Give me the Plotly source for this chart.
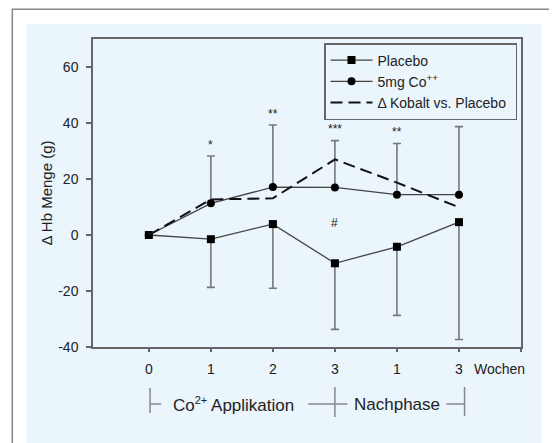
import plotly.graph_objects as go

# ---- data ----
x_pos = [0, 1, 2, 3, 4, 5]
week_labels = ["0", "1", "2", "3", "1", "3"]
y_ticks = [-40, -20, 0, 20, 40, 60]
y_tick_labels = ["-40", "-20", "0", "20", "40", "60"]
placebo = [0, -1.5, 3.9, -10.1, -4.2, 4.6]
placebo_err_minus = [0, 17.2, 22.9, 23.6, 24.5, 41.9]
cobalt = [0, 11.3, 17.1, 17.0, 14.4, 14.4]
cobalt_err_plus = [0, 16.9, 22.2, 16.7, 18.3, 24.3]
delta = [0, 12.7, 13.1, 27.0, 18.7, 9.9]
sig_x = [1, 2, 3, 4, 3]
sig_y = [32.2, 43.2, 38.0, 36.9, 4.2]
sig_text = ["*", "**", "***", "**", "#"]

FONT = "Liberation Sans, Arial, sans-serif"
TXT = "#222222"
GRAY = "#666666"
BLUE = "#EAF5FC"
XR = [-0.9, 6.0]
YR = [-40, 70]
OX, OY = 8, 8          # page body margin
W, H = 549, 435
L, R, T, B = 85, 36, 31, 96
PW, PH = W - L - R, H - T - B


def pxx(px):  # page x pixel -> paper
    return (px - OX - L) / PW


def pyy(py):  # page y pixel -> paper
    return (H - B - (py - OY)) / PH


def xp(v):
    return (v - XR[0]) / (XR[1] - XR[0])


fig = go.Figure()

fig.add_trace(go.Scatter(
    x=x_pos, y=placebo, mode="lines+markers", name="Placebo",
    line=dict(color="#444444", width=1.3),
    marker=dict(symbol="square", size=8, color="black"),
    error_y=dict(type="data", symmetric=False, array=[0] * 6,
                 arrayminus=placebo_err_minus, color="#777777",
                 thickness=1.6, width=4),
))
fig.add_trace(go.Scatter(
    x=x_pos, y=cobalt, mode="lines+markers", name="5mg Co<sup>++</sup>",
    line=dict(color="#444444", width=1.3),
    marker=dict(symbol="circle", size=8, color="black"),
    error_y=dict(type="data", symmetric=False, array=cobalt_err_plus,
                 arrayminus=[0] * 6, color="#777777",
                 thickness=1.6, width=4),
))
fig.add_trace(go.Scatter(
    x=x_pos, y=delta, mode="lines", name="Δ Kobalt vs. Placebo&nbsp;",
    line=dict(color="#111111", width=2, dash="12px,6px"),
))

annotations = []
for sx, sy, st in zip(sig_x, sig_y, sig_text):
    annotations.append(dict(x=sx, y=sy, xref="x", yref="y", text=st,
                            showarrow=False, font=dict(size=12, color=TXT, family=FONT)))

annotations.append(dict(x=5.647, y=pyy(369), xref="x", yref="paper", text="Wochen",
                        showarrow=False, yanchor="middle",
                        font=dict(size=14, color=TXT, family=FONT)))
annotations.append(dict(x=1.364, y=pyy(404), xref="x", yref="paper",
                        text="Co<sup><span style='font-size:11px'>2+</span></sup> Applikation",
                        showarrow=False, yanchor="middle",
                        font=dict(size=17, color=TXT, family=FONT)))
annotations.append(dict(x=4.007, y=pyy(404), xref="x", yref="paper",
                        text="Nachphase", showarrow=False, yanchor="middle",
                        font=dict(size=17, color=TXT, family=FONT)))

shapes = [
    dict(type="rect", xref="paper", yref="paper", layer="below",
         x0=pxx(12.3), x1=pxx(555), y0=pyy(470), y1=pyy(9.3),
         line=dict(color="#888888", width=1.5), fillcolor="white"),
    dict(type="rect", xref="paper", yref="paper", layer="below",
         x0=pxx(26.7), x1=pxx(541.7), y0=pyy(470), y1=pyy(24),
         line=dict(width=0), fillcolor=BLUE),
]
bl = dict(color="#888888", width=1.5)
# bracket below x axis
shapes += [
    dict(type="line", xref="paper", yref="paper", x0=xp(0.02), x1=xp(0.02), y0=pyy(388), y1=pyy(413), line=bl),
    dict(type="line", xref="paper", yref="paper", x0=xp(0.02), x1=xp(0.2), y0=pyy(404), y1=pyy(404), line=bl),
    dict(type="line", xref="paper", yref="paper", x0=xp(3), x1=xp(3), y0=pyy(387), y1=pyy(417), line=bl),
    dict(type="line", xref="paper", yref="paper", x0=xp(2.57), x1=xp(3.2), y0=pyy(404), y1=pyy(404), line=bl),
    dict(type="line", xref="paper", yref="paper", x0=xp(5.09), x1=xp(5.09), y0=pyy(387), y1=pyy(416), line=bl),
    dict(type="line", xref="paper", yref="paper", x0=xp(4.8), x1=xp(5.09), y0=pyy(404), y1=pyy(404), line=bl),
]

fig.update_layout(
    width=W, height=H,
    margin=dict(l=L, r=R, t=T, b=B, pad=0),
    paper_bgcolor="rgba(0,0,0,0)", plot_bgcolor="rgba(0,0,0,0)",
    font=dict(family=FONT, color=TXT, size=14),
    showlegend=True,
    legend=dict(x=pxx(324), y=pyy(43), xanchor="left", yanchor="top",
                bgcolor=BLUE, bordercolor=GRAY, borderwidth=1.5,
                font=dict(size=14, family=FONT, color=TXT),
                tracegroupgap=0, itemwidth=42),
    annotations=annotations,
    shapes=shapes,
)
fig.update_xaxes(range=XR, tickmode="array", tickvals=x_pos + [6], ticktext=week_labels + [""],
                 showgrid=False, zeroline=False, showline=True, mirror=True,
                 linecolor=GRAY, linewidth=1.5, ticks="outside", ticklen=3,
                 tickcolor=GRAY, tickwidth=1.5, ticklabelstandoff=5,
                 tickfont=dict(size=14, color=TXT, family=FONT))
fig.update_yaxes(range=YR, tickmode="array", tickvals=y_ticks, ticktext=y_tick_labels,
                 showgrid=False, zeroline=False, showline=True, mirror=True,
                 linecolor=GRAY, linewidth=1.5, ticks="outside", ticklen=5,
                 tickcolor=GRAY, tickwidth=1.5, ticklabelstandoff=5,
                 tickfont=dict(size=14, color=TXT, family=FONT),
                 title=dict(text="Δ Hb Menge (g)", standoff=2,
                            font=dict(size=15, color=TXT, family=FONT)))

fig.write_html("out.html")
